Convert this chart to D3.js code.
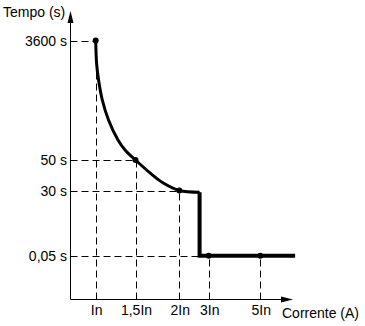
<!DOCTYPE html>
<html>
<head>
<meta charset="utf-8">
<script src="https://cdn.jsdelivr.net/npm/d3@7"></script>
<style>
  body { margin: 0; background: #fff; }
  text { font-family: "Liberation Sans", Arial, sans-serif; font-size: 14px; fill: #000; }
</style>
</head>
<body>
<div id="chart"></div>
<script>
var svgWidth = 365;
var svgHeight = 326;

// marked points of the trip curve (multiples of In, seconds)
var markCurrent = [1, 1.5, 2, 3, 5];
var markCurrentLabels = ["In", "1,5In", "2In", "3In", "5In"];
var markTime = [3600, 50, 30, 0.05, 0.05];
var timeTicks = [3600, 50, 30, 0.05];
var timeTickLabels = ["3600 s", "50 s", "30 s", "0,05 s"];

// thermal part of the curve
var curveCurrent = [1, 1.011, 1.036, 1.083, 1.161, 1.28, 1.374, 1.5, 1.666, 1.817, 2, 2.69];
var curveTime = [3600, 2930, 2427, 1832, 1238, 644, 332, 50, 41.5, 34.9, 30, 29.2];

// magnetic part: vertical drop then flat
var stepCurrent = [2.69, 2.69, 6.35];
var stepTime = [29.2, 0.05, 0.05];

var svg = d3.select("#chart")
  .append("svg")
  .attr("width", svgWidth)
  .attr("height", svgHeight);

// schematic, non uniform scales
var xScale = d3.scaleLinear()
  .domain([0, 1, 1.5, 2, 3, 5])
  .range([70.5, 95.7, 135.5, 179.3, 208.7, 260.3]);

var yScale = d3.scaleLinear()
  .domain([0, 0.05, 30, 50, 3600])
  .range([299.5, 255.7, 190.5, 160, 40.5]);

var x0 = xScale(0);
var y0 = yScale(0);

// dashed guides
var guides = svg.append("g")
  .attr("stroke", "#000")
  .attr("stroke-width", 1)
  .attr("stroke-dasharray", "7,4")
  .attr("fill", "none");

// horizontal guides, from the axis to the curve
var hEnds = [1, 1.5, 2, 2.69];
timeTicks.forEach(function(t, i) {
  guides.append("line")
    .attr("x1", x0)
    .attr("x2", xScale(hEnds[i]))
    .attr("y1", Math.round(yScale(t)) + 0.5)
    .attr("y2", Math.round(yScale(t)) + 0.5);
});

// vertical guides, from the points down to the axis
markCurrent.forEach(function(c, i) {
  guides.append("line")
    .attr("x1", Math.round(xScale(c)) + 0.5)
    .attr("x2", Math.round(xScale(c)) + 0.5)
    .attr("y1", y0)
    .attr("y2", yScale(markTime[i]));
});

// axes with arrows
svg.append("line")
  .attr("x1", x0).attr("y1", y0)
  .attr("x2", x0).attr("y2", 20)
  .attr("stroke", "#000");
svg.append("path")
  .attr("d", `M${x0},11 L${x0 - 3},23 L${x0 + 3},23 Z`)
  .attr("fill", "#000");

svg.append("line")
  .attr("x1", x0).attr("y1", y0)
  .attr("x2", 284).attr("y2", y0)
  .attr("stroke", "#000");
svg.append("path")
  .attr("d", `M293,${y0} L281,${y0 - 3} L281,${y0 + 3} Z`)
  .attr("fill", "#000");

// curve
var line = d3.line()
  .x(d => xScale(d[0]))
  .y(d => yScale(d[1]))
  .curve(d3.curveCatmullRom.alpha(0.5));

svg.append("path")
  .datum(curveCurrent.map((c, i) => [c, curveTime[i]]))
  .attr("d", line)
  .attr("fill", "none")
  .attr("stroke", "#000")
  .attr("stroke-width", 3);

var stepLine = d3.line()
  .x(d => xScale(d[0]))
  .y(d => yScale(d[1]));

svg.append("path")
  .datum(stepCurrent.map((c, i) => [c, stepTime[i]]))
  .attr("d", stepLine)
  .attr("fill", "none")
  .attr("stroke", "#000")
  .attr("stroke-width", 4)
  .attr("stroke-linejoin", "miter");

// dots
svg.selectAll("circle.mark")
  .data(markCurrent)
  .enter()
  .append("circle")
  .attr("class", "mark")
  .attr("cx", d => xScale(d))
  .attr("cy", (d, i) => yScale(markTime[i]))
  .attr("r", 3)
  .attr("fill", "#000");

// tick labels
svg.selectAll("text.ylab")
  .data(timeTicks)
  .enter()
  .append("text")
  .attr("class", "ylab")
  .attr("x", 67)
  .attr("y", d => yScale(d) + 5)
  .attr("text-anchor", "end")
  .text((d, i) => timeTickLabels[i]);

svg.selectAll("text.xlab")
  .data(markCurrent)
  .enter()
  .append("text")
  .attr("class", "xlab")
  .attr("x", d => xScale(d) + 1)
  .attr("y", 315)
  .attr("text-anchor", "middle")
  .text((d, i) => markCurrentLabels[i]);

// axis titles
svg.append("text")
  .attr("x", 3)
  .attr("y", 17)
  .text("Tempo (s)");

svg.append("text")
  .attr("x", 282)
  .attr("y", 318)
  .text("Corrente (A)");
</script>
</body>
</html>
